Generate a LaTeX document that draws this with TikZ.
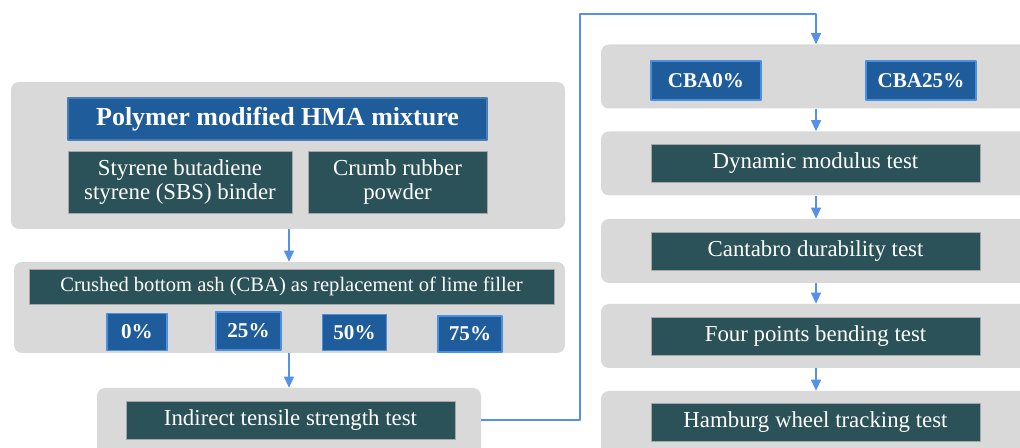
\documentclass[tikz,border=0pt]{standalone}
\usepackage{fontspec}
\setmainfont{Liberation Serif}
\usetikzlibrary{arrows.meta}
\definecolor{panelgray}{HTML}{D9D9D9}
\definecolor{hmablue}{HTML}{1F5C9C}
\definecolor{hmaedge}{HTML}{4A8FE0}
\definecolor{darkteal}{HTML}{2B5159}
\definecolor{arrowblue}{HTML}{5590EA}
\begin{document}
\begin{tikzpicture}[x=0.02cm, y=-0.02cm, line join=round,
	>={Triangle[length=2.2mm,width=2mm]},
	panel/.style={fill=panelgray, draw=none, rounded corners=0.16cm, inner sep=0pt},
	darkbox/.style={fill=darkteal, draw=gray!70, line width=0.4pt, text=white, inner sep=0pt, align=center, font=\fontsize{13}{13.6}\selectfont},
	bluebox/.style={fill=hmablue, draw=hmaedge, line width=0.6pt, text=white, inner sep=0pt, font=\bfseries\fontsize{12}{13}\selectfont},
	flow/.style={draw=arrowblue, line width=0.6pt, ->}]
	\useasboundingbox (0,0) rectangle (1020,448);
	\clip (0,0) rectangle (1020,448);
	% left column
	\node[panel, minimum width=554*0.02cm, minimum height=147*0.02cm] (p1) at (288,155.5) {};
	\node[bluebox, minimum width=419*0.02cm, minimum height=42*0.02cm, draw=hmablue!80!white, font=\bfseries\fontsize{14.8}{16}\selectfont] (hma) at (277.5,119) {Polymer modified HMA mixture};
	\node[darkbox, minimum width=224*0.02cm, minimum height=62*0.02cm] (sbs) at (180,182) {Styrene butadiene\\styrene (SBS) binder};
	\node[darkbox, minimum width=179*0.02cm, minimum height=62*0.02cm] (crumb) at (397.5,182) {Crumb rubber\\powder};
	\node[panel, minimum width=551*0.02cm, minimum height=91*0.02cm] (p2) at (289.5,307.5) {};
	\node[darkbox, minimum width=525*0.02cm, minimum height=35*0.02cm, font=\fontsize{11.7}{13}\selectfont] (cba) at (291.5,286.5) {Crushed bottom ash (CBA) as replacement of lime filler};
	\node[bluebox, minimum width=60*0.02cm, minimum height=37*0.02cm] (c0) at (137,332) {0\%};
	\node[bluebox, minimum width=65*0.02cm, minimum height=38*0.02cm] (c25) at (248.5,331) {25\%};
	\node[bluebox, minimum width=64*0.02cm, minimum height=36*0.02cm] (c50) at (354.5,332.5) {50\%};
	\node[bluebox, minimum width=64*0.02cm, minimum height=36*0.02cm] (c75) at (470,334) {75\%};
	\node[panel, minimum width=384*0.02cm, minimum height=84*0.02cm] (p3) at (289,430) {};
	\node[darkbox, minimum width=329*0.02cm, minimum height=38*0.02cm] (its) at (290.5,420) {Indirect tensile strength test};
	% right column
	\foreach \nm/\yy in {p4/76.5,p5/163.5,p6/251,p7/336,p8/423}
		\node[panel, minimum width=430*0.02cm, minimum height=64*0.02cm] (\nm) at (816,\yy) {};
	\node[bluebox, minimum width=110*0.02cm, minimum height=39*0.02cm] (cba0) at (706,80.5) {CBA0\%};
	\node[bluebox, minimum width=110*0.02cm, minimum height=39*0.02cm] (cba25) at (921,80.5) {CBA25\%};
	\node[darkbox, minimum width=329*0.02cm, minimum height=38*0.02cm] (dyn) at (815.5,163) {Dynamic modulus test};
	\node[darkbox, minimum width=329*0.02cm, minimum height=38*0.02cm] (cant) at (815.5,251) {Cantabro durability test};
	\node[darkbox, minimum width=329*0.02cm, minimum height=38*0.02cm] (fpb) at (815.5,336) {Four points bending test};
	\node[darkbox, minimum width=329*0.02cm, minimum height=38*0.02cm] (hwt) at (815.5,422.5) {Hamburg wheel tracking test};
	% connectors
	\coordinate (turn) at (580,14);
	\draw[flow] (p1.south -| 289,0) -- (p2.north -| 289,0);
	\draw[flow] (p2.south -| 289,0) -- (p3.north -| 289,0);
	\draw[flow] (its.east -| p3.east) -| (turn) -| (p4.north);
	\foreach \a/\b in {p4/p5,p5/p6,p6/p7,p7/p8}
		\draw[flow] (\a.south) -- (\b.north);
\end{tikzpicture}
\end{document}
